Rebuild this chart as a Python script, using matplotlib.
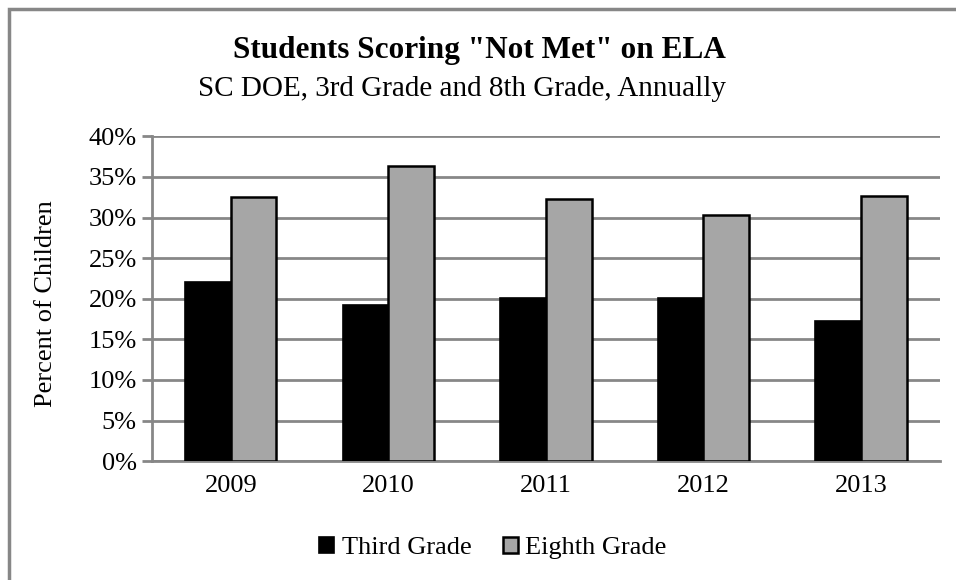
import numpy as np
import matplotlib
matplotlib.use('Agg')
from matplotlib import pyplot as plt
from matplotlib.patches import Rectangle
from matplotlib.ticker import FuncFormatter

years = ['2009', '2010', '2011', '2012', '2013']
third_grade = [22.1, 19.2, 20.1, 20.1, 17.3]
eighth_grade = [32.55, 36.4, 32.3, 30.25, 32.6]
series_names = ['Third Grade', 'Eighth Grade']

plt.rcParams['font.family'] = ['Liberation Serif', 'DejaVu Serif']


def main():
    fig = plt.figure(figsize=(9.56, 5.8), dpi=100)
    ax = fig.add_axes([0.159, 0.205, 0.824, 0.56])

    # Outer chart border (only top and left visible in the reference)
    fig.patches.append(Rectangle((9 / 956, -0.1), 1.2, 1.1 - 9 / 580, transform=fig.transFigure,
                                 fill=False, edgecolor='#878787', linewidth=2.5, zorder=0))

    x = np.arange(len(years))
    w = 0.29
    ax.bar(x - w / 2, third_grade, w, color='black', edgecolor='black', linewidth=1.2,
           label=series_names[0], zorder=3)
    ax.bar(x + w / 2, eighth_grade, w, color='#a6a6a6', edgecolor='black', linewidth=1.8,
           label=series_names[1], zorder=3)

    ax.set_xlim(-0.5, len(years) - 0.5)
    ax.set_ylim(0, 40)
    ax.set_yticks(np.arange(0, 41, 5))
    ax.yaxis.set_major_formatter(FuncFormatter(lambda v, p: '%d%%' % v))
    ax.set_xticks(x)
    ax.set_xticklabels(years)

    ax.grid(axis='y', color='#878787', linewidth=2, zorder=0)
    for side in ['top', 'right']:
        ax.spines[side].set_visible(False)
    ax.spines['left'].set_color('#878787')
    ax.spines['left'].set_linewidth(2)
    ax.spines['bottom'].set_color('#878787')
    ax.spines['bottom'].set_linewidth(2)
    ax.tick_params(axis='y', length=7, width=2, color='#878787', labelsize=19, pad=4)
    ax.tick_params(axis='x', length=0, labelsize=19, pad=10)

    fig.text(46 / 956, 1 - 304 / 580, 'Percent of Children', rotation=90, ha='center',
             va='center', fontsize=19)

    fig.text(0.502, 1 - 58 / 580, 'Students Scoring "Not Met" on ELA', ha='center',
             va='baseline', fontsize=22.5, fontweight='bold')
    fig.text(0.483, 1 - 96 / 580, 'SC DOE, 3rd Grade and 8th Grade, Annually', ha='center',
             va='baseline', fontsize=21)

    fig.legend(loc='center', bbox_to_anchor=(0.5 + 15 / 956, 1 - 548 / 580), ncol=2,
               frameon=False, fontsize=19, handlelength=0.55, handleheight=0.55,
               handletextpad=0.3, columnspacing=1.2)

    fig.savefig('out.png', dpi=100)


if __name__ == '__main__':
    main()
